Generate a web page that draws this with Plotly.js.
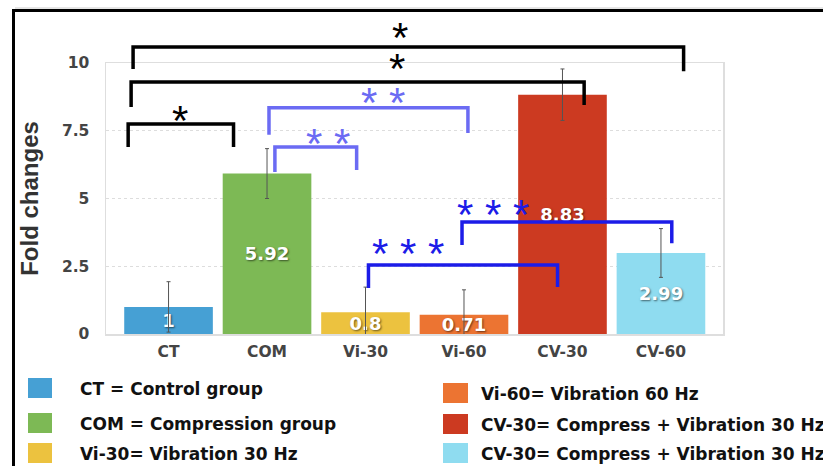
<!DOCTYPE html>
<html>
<head>
<meta charset="utf-8">
<script src="https://cdn.plot.ly/plotly-3.0.1.min.js"></script>
<style>html,body{margin:0;padding:0;background:#fff;}</style>
</head>
<body>
<div id="chart" style="width:823px;height:466px;"></div>
<script>
// ---- data ----
const categories = ['CT', 'COM', 'Vi-30', 'Vi-60', 'CV-30', 'CV-60'];
const foldChanges = [1, 5.92, 0.8, 0.71, 8.83, 2.99];
const errors = [0.93, 0.92, 0.93, 0.92, 0.95, 0.9];
const barColors = ['#46a0d4', '#7db955', '#ecc23f', '#ec7432', '#cc3a21', '#8fdcf0'];
const yTicks = [0, 2.5, 5, 7.5, 10];
const yTickLabels = ['0', '2.5', '5', '7.5', '10'];
const legendLabels = ['CT = Control group', 'COM = Compression group', 'Vi-30= Vibration 30 Hz',
                      'Vi-60= Vibration 60 Hz', 'CV-30= Compress + Vibration 30 Hz', 'CV-30= Compress + Vibration 30 Hz'];

// significance brackets (x in category units, y in fold-change units)
const bracketLeft     = [-0.36, -0.38, -0.41, 1.02, 1.08, 2.03, 2.98];
const bracketRight    = [5.23, 4.22, 0.66, 3.04, 1.91, 3.95, 5.11];
const bracketTop      = [10.59, 9.30, 7.75, 8.35, 6.90, 2.55, 4.13];
const bracketLeftEnd  = [9.78, 8.38, 6.90, 7.35, 5.98, 1.70, 3.28];
const bracketRightEnd = [9.70, 8.45, 6.90, 7.42, 6.05, 1.73, 3.35];
const starCount       = [1, 1, 1, 2, 2, 3, 3];
const starX           = [2.35, 2.32, 0.12, 2.18, 1.62, 2.43, 3.29];
const starY           = [11.14, 10.0, 8.08, 8.71, 7.23, 3.17, 4.58];
const bracketColors   = ['#000000', '#000000', '#000000', '#6b6bf3', '#6b6bf3', '#1c1ce8', '#1c1ce8'];

// ---- layout geometry ----
const W = 823, H = 466;
const M = {l: 106, r: 100, t: 63, b: 132};
const plotW = W - M.l - M.r, plotH = H - M.t - M.b;
const X_RANGE = [-0.635, 5.63];
const Y_RANGE = [0, 10];
const xp = v => (v - X_RANGE[0]) / (X_RANGE[1] - X_RANGE[0]);
const yp = v => (v - Y_RANGE[0]) / (Y_RANGE[1] - Y_RANGE[0]);
const pxX = px => (px - M.l) / plotW;
const pxY = py => (H - M.b - py) / plotH;

const xIdx = categories.map((c, i) => i);

const trace = {
  type: 'bar',
  x: xIdx,
  y: foldChanges,
  width: 0.9,
  marker: {color: barColors, line: {width: 0}},
  text: foldChanges.map(v => String(v)),
  textposition: 'inside',
  insidetextanchor: 'middle',
  constraintext: 'none',
  textfont: {family: 'DejaVu Sans', size: 18, weight: 'bold', color: '#ffffff',
             shadow: '1px 1px 2px rgba(0,0,0,0.55)'},
  error_y: {type: 'data', array: errors, visible: true, color: '#555555', thickness: 1, width: 2},
  hoverinfo: 'none',
  showlegend: false
};

const shapes = [];
const annotations = [];

// frame around the figure
shapes.push({type: 'line', xref: 'paper', yref: 'paper', x0: pxX(13.5), x1: pxX(13.5), y0: pxY(9), y1: pxY(470),
             line: {color: '#000', width: 3}});
shapes.push({type: 'line', xref: 'paper', yref: 'paper', x0: pxX(12), x1: pxX(830), y0: pxY(10.5), y1: pxY(10.5),
             line: {color: '#000', width: 3}});
shapes.push({type: 'line', xref: 'paper', yref: 'paper', x0: pxX(15), x1: pxX(830), y0: pxY(8), y1: pxY(8),
             line: {color: '#cccccc', width: 1}});

// brackets and stars
for (let i = 0; i < bracketLeft.length; i++) {
  const path = 'M' + xp(bracketLeft[i]) + ',' + yp(bracketLeftEnd[i]) +
               ' L' + xp(bracketLeft[i]) + ',' + yp(bracketTop[i]) +
               ' L' + xp(bracketRight[i]) + ',' + yp(bracketTop[i]) +
               ' L' + xp(bracketRight[i]) + ',' + yp(bracketRightEnd[i]);
  shapes.push({type: 'path', xref: 'paper', yref: 'paper', path: path, layer: 'above',
               line: {color: bracketColors[i], width: 3.5}});
  annotations.push({xref: 'paper', yref: 'paper', x: xp(starX[i]), y: yp(starY[i]),
                    xanchor: 'center', yanchor: 'middle', yshift: -5, showarrow: false,
                    text: Array(starCount[i]).fill('*').join(' '),
                    font: {family: 'Liberation Sans', size: 42, color: bracketColors[i]}});
}

// custom legend (two columns)
const legSqX = [[28, 52], [443, 468]];
const legRowY = [[388, 423, 453], [393, 424, 453]];
const legTextX = [78, 479];
legendLabels.forEach((lab, k) => {
  const col = Math.floor(k / 3), row = k % 3;
  const cy = legRowY[col][row];
  shapes.push({type: 'rect', xref: 'paper', yref: 'paper',
               x0: pxX(legSqX[col][0]), x1: pxX(legSqX[col][1]),
               y0: pxY(cy - 10), y1: pxY(cy + 10),
               fillcolor: barColors[k], line: {width: 0}});
  annotations.push({xref: 'paper', yref: 'paper', x: pxX(legTextX[col]), y: pxY(cy + 1),
                    xanchor: 'left', yanchor: 'middle', showarrow: false, text: lab,
                    font: {family: 'DejaVu Sans', size: 17, weight: 'bold', color: '#111'}});
});

const layout = {
  width: W, height: H,
  margin: {l: M.l, r: M.r, t: M.t, b: M.b, pad: 0},
  paper_bgcolor: '#ffffff', plot_bgcolor: '#ffffff',
  showlegend: false,
  xaxis: {
    range: X_RANGE, tickvals: xIdx, ticktext: categories,
    showgrid: false, zeroline: false, ticks: '',
    showline: true, mirror: true, linecolor: '#dedede', linewidth: 1.5,
    ticklabelstandoff: 3,
    tickfont: {family: 'DejaVu Sans', size: 15.5, weight: 'bold', color: '#444'},
    fixedrange: true
  },
  yaxis: {
    range: Y_RANGE, tickvals: yTicks, ticktext: yTickLabels,
    showgrid: true, gridcolor: '#dddddd', griddash: 'dot', gridwidth: 1,
    zeroline: false, ticks: '',
    showline: true, mirror: true, linecolor: '#dedede', linewidth: 1.5,
    ticklabelstandoff: 12,
    tickfont: {family: 'DejaVu Sans', size: 15.5, weight: 'bold', color: '#444'},
    title: {text: 'Fold changes', standoff: 16,
            font: {family: 'Liberation Sans', size: 24, weight: 'bold', color: '#333'}},
    fixedrange: true
  },
  shapes: shapes,
  annotations: annotations
};

Plotly.newPlot('chart', [trace], layout, {displayModeBar: false, staticPlot: true});
</script>
</body>
</html>
